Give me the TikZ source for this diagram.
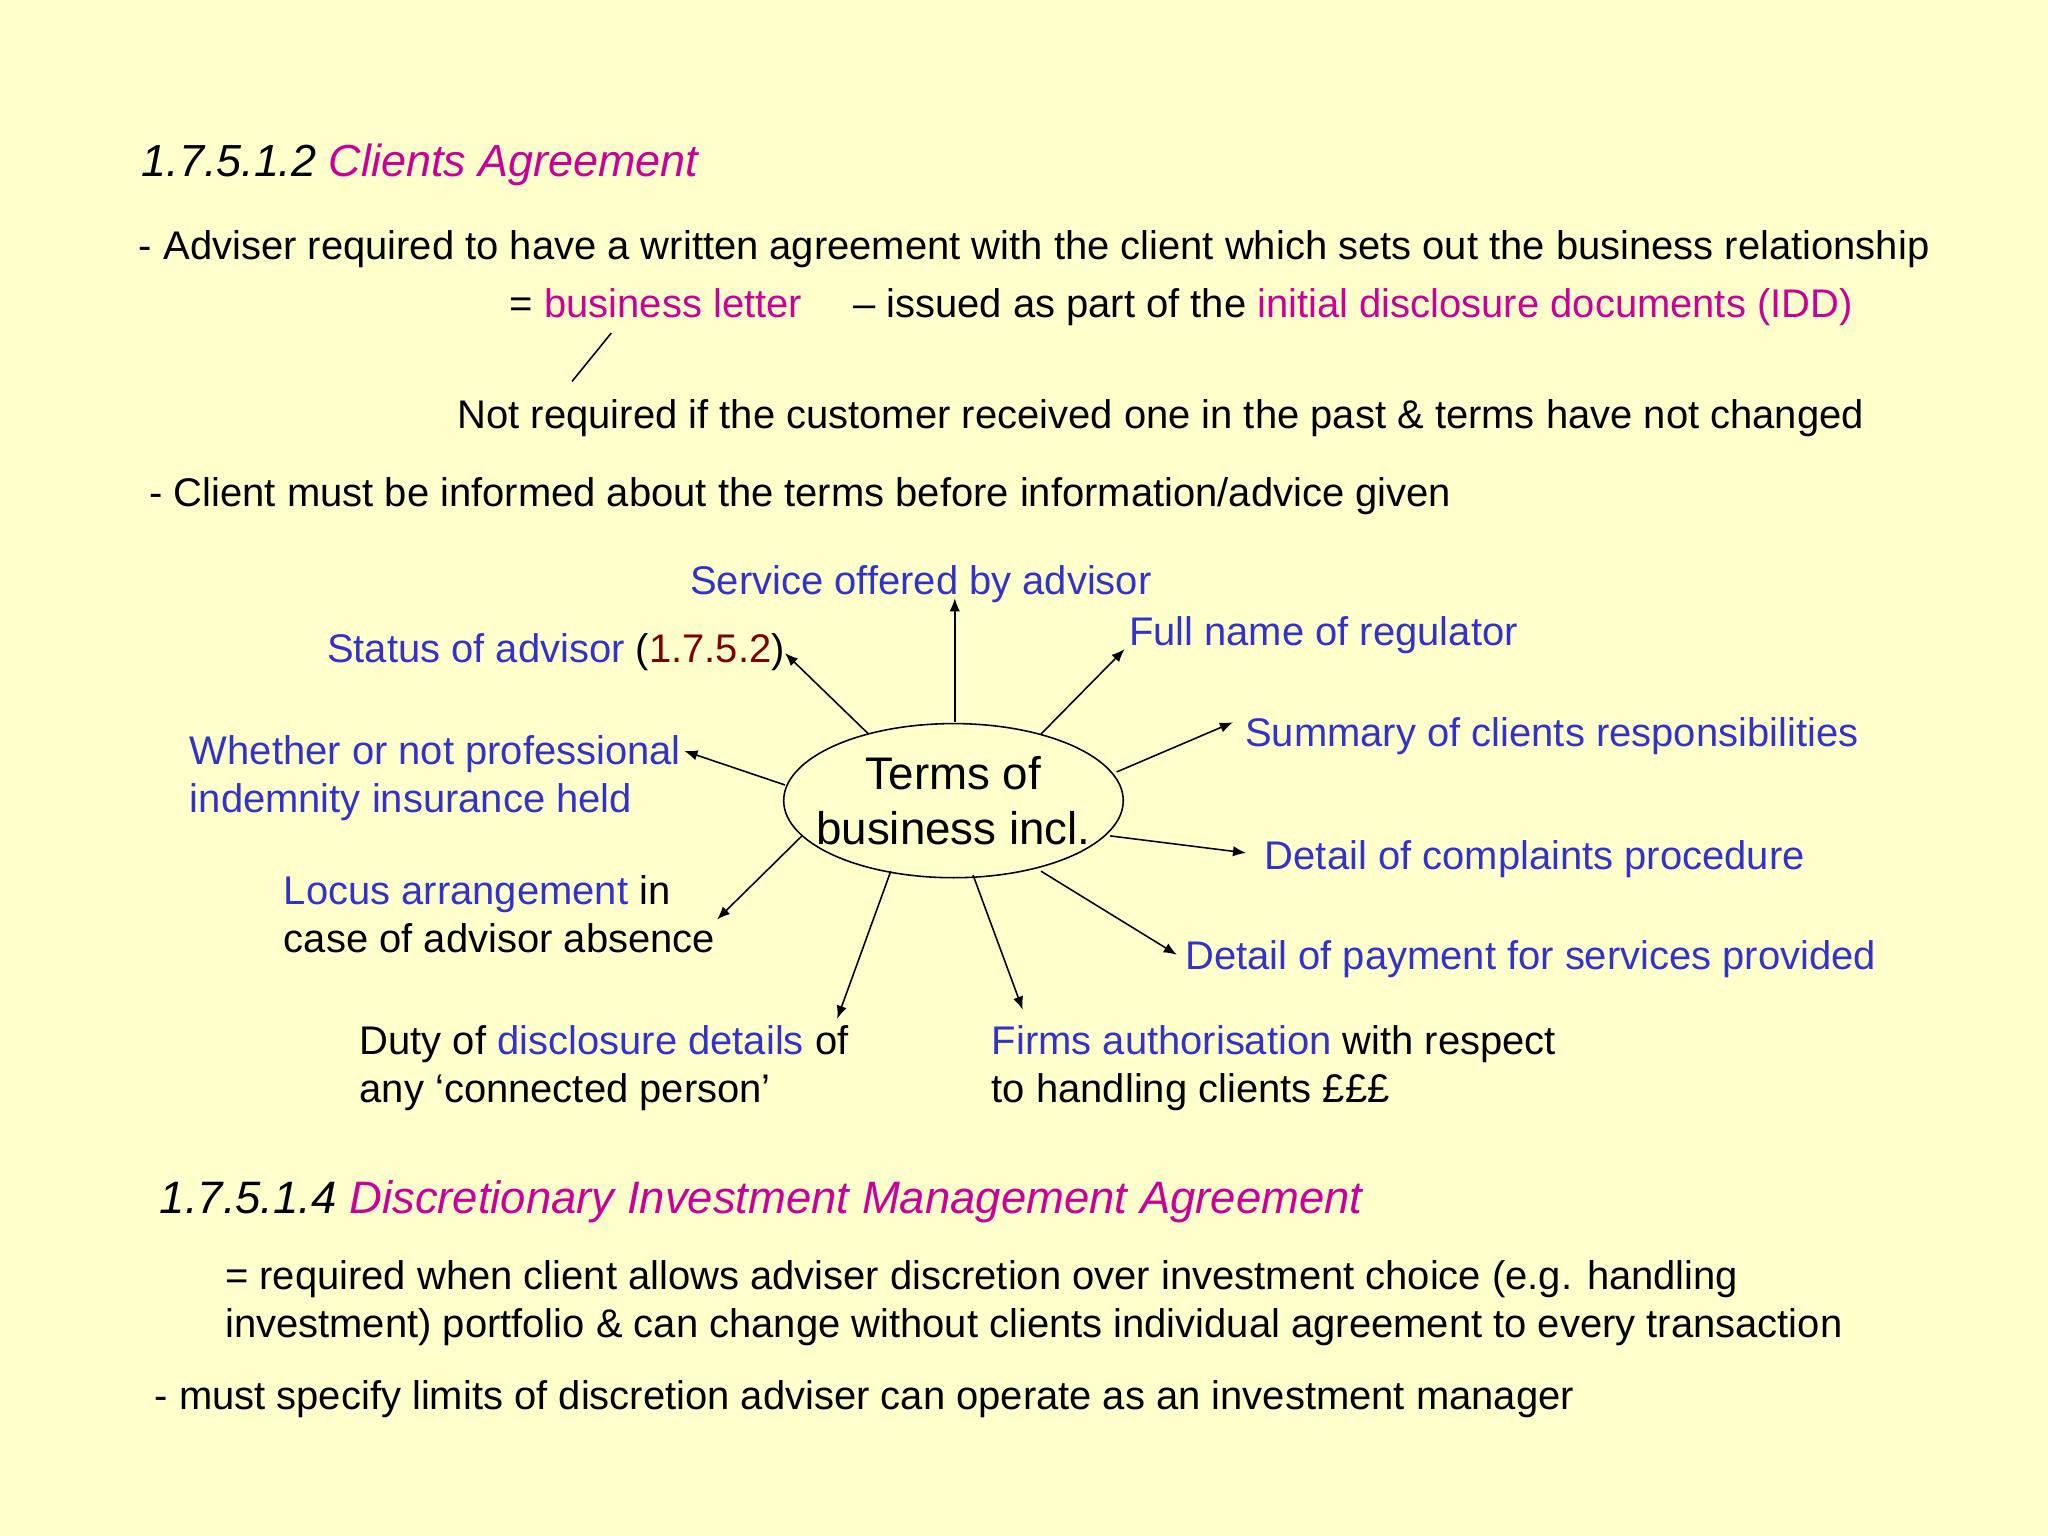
\documentclass[tikz,border=0pt]{standalone}
\usepackage{fontspec}
\setmainfont{Liberation Sans}
\usetikzlibrary{shapes.geometric,arrows.meta}
\definecolor{bg}{HTML}{FFFFCC}
\definecolor{mg}{HTML}{CC0099}
\definecolor{bl}{HTML}{3333CC}
\definecolor{dr}{HTML}{800000}
\tikzset{t/.style={anchor=west,inner sep=0pt,font=\fontsize{15.3}{18.4}\selectfont,align=left},
 arr/.style={-{Latex[length=5pt,width=4pt]},line width=0.6pt}}
\begin{document}
\begin{tikzpicture}[x=0.5pt,y=-0.5pt]
\fill[bg] (0,0) rectangle (1568,1176);
\node[t,font=\fontsize{17.2}{20}\selectfont] (h1) at (108,126) {\textit{1.7.5.1.2 \textcolor{mg}{Clients Agreement}}};
\node[t] (l1) at (106,191) {- Adviser required to have a written agreement with the client which sets out the business relationship};
\node[t] (l2) at (390,235) {= \textcolor{mg}{business letter}\quad\ – issued as part of the \textcolor{mg}{initial disclosure documents (IDD)}};
\node[t] (l3) at (350,320) {Not required if the customer received one in the past \& terms have not changed};
\coordinate (s1) at (468,255); \coordinate (s2) at (438,292);
\draw[line width=0.6pt] (s1) -- (s2);
\node[t] (l4) at (114,380) {- Client must be informed about the terms before information/advice given};
\node[inner sep=0pt,align=center,font=\fontsize{17.5}{21}\selectfont] (c) at (730,613) {Terms of\\business incl.};
\draw[line width=0.6pt] (c.center) ellipse (130 and 59);
\node[t,bl] (a1) at (528,447) {Service offered by advisor};
\node[t,bl] (a2) at (250,499) {Status of advisor \textcolor{black}{(}\textcolor{dr}{1.7.5.2}\textcolor{black}{)}};
\node[t,bl] (a3) at (864,486) {Full name of regulator};
\node[t,bl] (a4) at (953,564) {Summary of clients responsibilities};
\node[t,bl] (a5) at (145,596) {Whether or not professional\\indemnity insurance held};
\node[t,bl] (a6) at (968,658) {Detail of complaints procedure};
\node[t] (a7) at (217,700) {\textcolor{bl}{Locus arrangement} in\\case of advisor absence};
\node[t,bl] (a8) at (907,734) {Detail of payment for services provided};
\node[t] (a9) at (275,818) {Duty of \textcolor{bl}{disclosure details} of\\any ‘connected person’};
\node[t] (a10) at (759,818) {\textcolor{bl}{Firms authorisation} with respect\\to handling clients £££};
\coordinate (b1) at (665,562); \coordinate (e1) at (601,500);
\coordinate (b2) at (731,553); \coordinate (e2) at (731,458);
\coordinate (b3) at (797,562); \coordinate (e3) at (861,497);
\coordinate (b4) at (855,591); \coordinate (e4) at (944,553);
\coordinate (b5) at (850,640); \coordinate (e5) at (954,653);
\coordinate (b6) at (797,667); \coordinate (e6) at (901,731);
\coordinate (b7) at (745,670); \coordinate (e7) at (783,773);
\coordinate (b8) at (682,667); \coordinate (e8) at (641,780);
\coordinate (b9) at (614,640); \coordinate (e9) at (549,704);
\coordinate (b10) at (601,601); \coordinate (e10) at (524,575);
\foreach \i in {1,...,10}{\draw[arr] (b\i) -- (e\i);}
\node[t,font=\fontsize{17.4}{20}\selectfont] (h2) at (122,920) {\textit{1.7.5.1.4 \textcolor{mg}{Discretionary Investment Management Agreement}}};
\node[t] (m1) at (172,998) {= required when client allows adviser discretion over investment choice (e.g. handling\\investment) portfolio \& can change without clients individual agreement to every transaction};
\node[t] (m2) at (118,1071) {- must specify limits of discretion adviser can operate as an investment manager};
\end{tikzpicture}
\end{document}
